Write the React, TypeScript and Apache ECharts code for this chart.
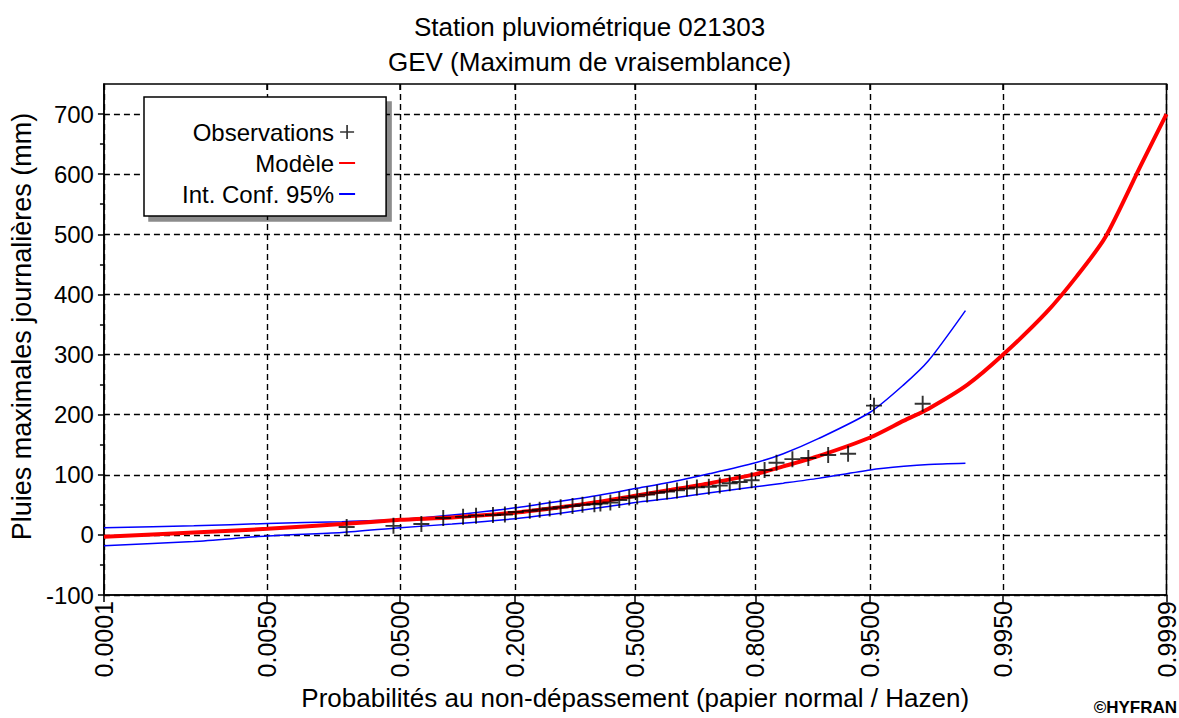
import React, { useEffect, useRef } from 'react';
import * as echarts from 'echarts';

// ---------- data ----------
const tickProbs = [0.0001, 0.005, 0.05, 0.2, 0.5, 0.8, 0.95, 0.995, 0.9999];
const tickLabels = ['0.0001', '0.0050', '0.0500', '0.2000', '0.5000', '0.8000', '0.9500', '0.9950', '0.9999'];
const yTicks = [-100, 0, 100, 200, 300, 400, 500, 600, 700];

const obsProb = [
  0.0217, 0.0453, 0.0672, 0.0895, 0.1141, 0.1326, 0.1597, 0.1808, 0.2016, 0.2302,
  0.2518, 0.2746, 0.3008, 0.3304, 0.356, 0.3876, 0.4037, 0.4309, 0.4556, 0.4833,
  0.5056, 0.5333, 0.5609, 0.5882, 0.615, 0.6414, 0.667, 0.6968, 0.723, 0.7459,
  0.7677, 0.7924, 0.8174, 0.8387, 0.8644, 0.8872, 0.9116, 0.9319, 0.9527, 0.9779,
];
const obsValue = [
  13, 15, 18, 28, 30, 32, 33, 34, 38, 40,
  42, 44, 46, 48, 50, 51, 52, 54, 58, 62,
  64, 67, 70, 72, 74, 77, 79, 80, 82, 86,
  88, 91, 108, 120, 126, 128, 133, 135, 215, 218,
];

const modelProb = [
  0.0001, 0.001, 0.005, 0.02, 0.05, 0.1, 0.2, 0.3, 0.4, 0.5, 0.6, 0.7, 0.8, 0.85, 0.9,
  0.95, 0.97, 0.98, 0.99, 0.995, 0.998, 0.999, 0.9995, 0.9998, 0.9999,
];
const modelValue = [
  -3, 4, 10, 18, 25, 29, 37, 46, 55, 65, 75, 86, 101, 114, 131,
  162, 190, 210, 250, 300, 370, 430, 495, 615, 700,
];

const ciProb = [
  0.0001, 0.001, 0.005, 0.02, 0.05, 0.1, 0.2, 0.3, 0.4, 0.5, 0.6, 0.7, 0.8, 0.85, 0.9,
  0.95, 0.97, 0.98, 0.9896,
];
const ciUpper = [12, 15, 19, 22, 26, 33, 45, 56, 66, 77, 88, 102, 120, 135, 160, 204, 250, 290, 373];
const ciLower = [-18, -11, -2, 4, 12, 18, 27, 36, 45, 54, 61, 70, 80, 86, 94, 108, 114, 117, 119];

// ---------- normal probability scale (probit) ----------
function probit(p: number): number {
  const a = [-3.969683028665376e1, 2.209460984245205e2, -2.759285104469687e2, 1.38357751867269e2, -3.066479806614716e1, 2.506628277459239];
  const b = [-5.447609879822406e1, 1.615858368580409e2, -1.556989798598866e2, 6.680131188771972e1, -1.328068155288572e1];
  const c = [-7.784894002430293e-3, -3.223964580411365e-1, -2.400758277161838, -2.549732539343734, 4.374664141464968, 2.938163982698783];
  const d = [7.784695709041462e-3, 3.224671290700398e-1, 2.445134137142996, 3.754408661907416];
  const plow = 0.02425;
  if (p < plow) {
    const q = Math.sqrt(-2 * Math.log(p));
    return (((((c[0] * q + c[1]) * q + c[2]) * q + c[3]) * q + c[4]) * q + c[5]) / ((((d[0] * q + d[1]) * q + d[2]) * q + d[3]) * q + 1);
  } else if (p <= 1 - plow) {
    const q = p - 0.5;
    const r = q * q;
    return ((((((a[0] * r + a[1]) * r + a[2]) * r + a[3]) * r + a[4]) * r + a[5]) * q) / (((((b[0] * r + b[1]) * r + b[2]) * r + b[3]) * r + b[4]) * r + 1);
  }
  const q = Math.sqrt(-2 * Math.log(1 - p));
  return -(((((c[0] * q + c[1]) * q + c[2]) * q + c[3]) * q + c[4]) * q + c[5]) / ((((d[0] * q + d[1]) * q + d[2]) * q + d[3]) * q + 1);
}

const FONT = '"Liberation Sans", Arial, sans-serif';
const PLUS = 'path://M4.4,0H5.6V4.4H10V5.6H5.6V10H4.4V5.6H0V4.4H4.4Z';
const HIDDEN_SYMBOL = { color: 'rgba(0,0,0,0)', borderColor: 'rgba(0,0,0,0)', borderWidth: 0 };

export default function App() {
  const ref = useRef<HTMLDivElement>(null);

  useEffect(() => {
    document.body.style.margin = '0';
    if (!ref.current) return;
    const chart = echarts.init(ref.current, undefined, { renderer: 'svg' });
    const tickZ = tickProbs.map(probit);
    const zMin = probit(tickProbs[0]);
    const zMax = probit(tickProbs[tickProbs.length - 1]);
    const labelFor = (v: number) => {
      let best = 0;
      tickZ.forEach((z, i) => {
        if (Math.abs(z - v) < Math.abs(tickZ[best] - v)) best = i;
      });
      return tickLabels[best];
    };
    const dash = { color: '#000', width: 1.4, type: [6, 4] as number[] };

    chart.setOption({
      animation: false,
      backgroundColor: '#fff',
      textStyle: { fontFamily: FONT },
      title: {
        text: 'Station pluviométrique 021303\nGEV (Maximum de vraisemblance)',
        left: 'center',
        top: 9,
        padding: 0,
        textStyle: { fontFamily: FONT, fontSize: 26, fontWeight: 'normal', color: '#000', lineHeight: 35 },
      },
      legend: {
        orient: 'vertical',
        align: 'right',
        left: 144,
        top: 97,
        padding: [21, 30, 8, 38],
        itemGap: 3,
        itemWidth: 16,
        itemHeight: 14,
        selectedMode: false,
        backgroundColor: '#fff',
        borderColor: '#000',
        borderWidth: 1.5,
        borderRadius: 0,
        shadowColor: 'rgba(0,0,0,0.45)',
        shadowBlur: 0,
        shadowOffsetX: 5,
        shadowOffsetY: 5,
        textStyle: { fontFamily: FONT, fontSize: 24, color: '#000', lineHeight: 28 },
        data: [
          { name: 'Observations', icon: PLUS },
          { name: 'Modèle', itemStyle: HIDDEN_SYMBOL },
          { name: 'Int. Conf. 95%', itemStyle: HIDDEN_SYMBOL },
        ],
      },
      grid: {
        left: 100,
        right: 12,
        top: 84,
        bottom: 123,
        show: true,
        borderColor: '#000',
        borderWidth: 1.5,
        backgroundColor: '#fff',
      },
      xAxis: [
        {
          type: 'value',
          min: zMin,
          max: zMax,
          name: 'Probabilités au non-dépassement (papier normal / Hazen)',
          nameLocation: 'middle',
          nameGap: 87,
          nameTextStyle: { fontFamily: FONT, fontSize: 26, color: '#000' },
          axisLine: { show: true, onZero: false, lineStyle: { color: '#000', width: 1.5 } },
          axisTick: { show: true, length: 7, customValues: tickZ, lineStyle: { color: '#000', width: 1.5 } },
          axisLabel: {
            customValues: tickZ,
            rotate: 90,
            margin: 6,
            fontFamily: FONT,
            fontSize: 25,
            color: '#000',
            formatter: (v: number) => labelFor(v),
          },
          splitLine: { show: true, lineStyle: dash },
        },
        {
          type: 'value',
          position: 'top',
          min: zMin,
          max: zMax,
          axisLine: { show: false, onZero: false },
          axisTick: { show: true, inside: true, length: 6, customValues: tickZ, lineStyle: { color: '#000', width: 1.5 } },
          axisLabel: { show: false },
          splitLine: { show: false },
        },
      ],
      yAxis: {
        type: 'value',
        min: -100,
        max: 750,
        interval: 100,
        name: 'Pluies maximales journalières (mm)',
        nameLocation: 'middle',
        nameGap: 64,
        nameTextStyle: { fontFamily: FONT, fontSize: 27, color: '#000', padding: [0, 0, 0, 26] },
        axisLine: { show: true, onZero: false, lineStyle: { color: '#000', width: 1.5 } },
        axisTick: { show: true, length: 6, customValues: yTicks, lineStyle: { color: '#000', width: 1.5 } },
        minorTick: { show: true, splitNumber: 2, length: 4, lineStyle: { color: '#000', width: 1.5 } },
        axisLabel: { customValues: yTicks, margin: 10, fontFamily: FONT, fontSize: 24, color: '#000' },
        splitLine: { show: true, lineStyle: dash },
      },
      graphic: [
        {
          type: 'text',
          right: 2,
          top: 699,
          style: { text: '©HYFRAN', font: `bold 17px ${FONT}`, fill: '#000' },
        },
      ],
      series: [
        {
          name: 'Int. Conf. 95%',
          type: 'line',
          symbol: 'none',
          smooth: 0.25,
          z: 3,
          lineStyle: { color: '#0000ff', width: 1.5 },
          itemStyle: { color: '#0000ff' },
          data: ciProb.map((p, i) => [probit(p), ciUpper[i]]),
        },
        {
          name: 'Int. Conf. 95%',
          type: 'line',
          symbol: 'none',
          smooth: 0.25,
          z: 3,
          lineStyle: { color: '#0000ff', width: 1.5 },
          itemStyle: { color: '#0000ff' },
          data: ciProb.map((p, i) => [probit(p), ciLower[i]]),
        },
        {
          name: 'Modèle',
          type: 'line',
          symbol: 'none',
          smooth: 0.25,
          z: 4,
          lineStyle: { color: '#ff0000', width: 4 },
          itemStyle: { color: '#ff0000' },
          data: modelProb.map((p, i) => [probit(p), modelValue[i]]),
        },
        {
          name: 'Observations',
          type: 'scatter',
          symbol: PLUS,
          symbolSize: 16,
          z: 5,
          itemStyle: { color: '#000' },
          data: obsProb.map((p, i) => [probit(p), obsValue[i]]),
        },
      ],
    });
    return () => chart.dispose();
  }, []);

  return <div ref={ref} style={{ width: 1179, height: 718 }} />;
}
